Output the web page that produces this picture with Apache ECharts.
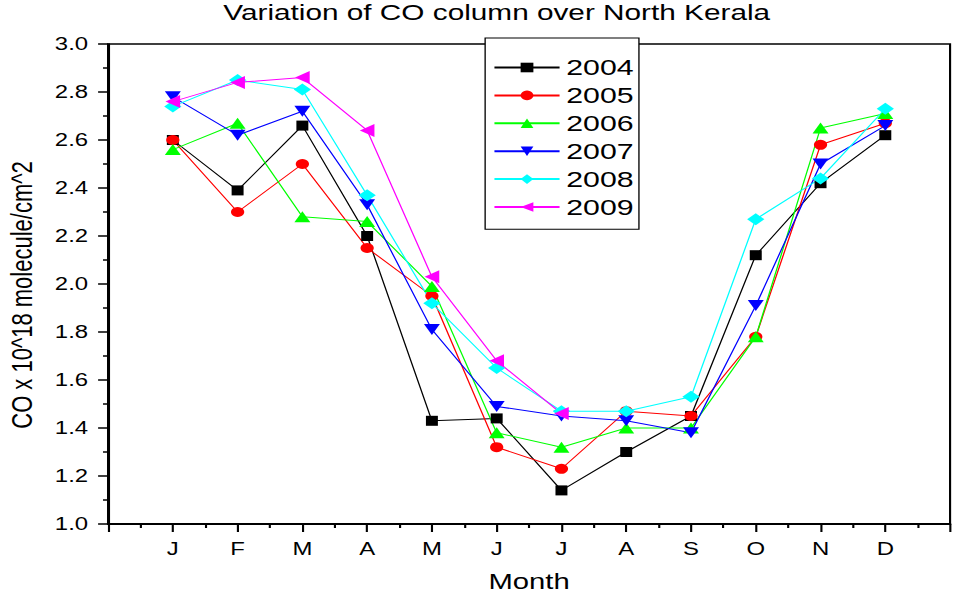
<!DOCTYPE html>
<html><head><meta charset="utf-8">
<script src="https://cdn.jsdelivr.net/npm/echarts@6/dist/echarts.min.js"></script>
<style>
html,body{margin:0;padding:0;background:#fff;overflow:hidden;}
#wrap{width:953px;height:598px;overflow:hidden;position:relative;}
#chart{width:717px;height:598px;transform:scaleX(1.32915);transform-origin:0 0;}
</style></head><body>
<div id="wrap"><div id="chart"></div></div>
<script>
const monthLabels = ['J','F','M','A','M','J','J','A','S','O','N','D'];
const yearNames = ['2004','2005','2006','2007','2008','2009'];
const yTickLabels = ['1.0','1.2','1.4','1.6','1.8','2.0','2.2','2.4','2.6','2.8','3.0'];

const co2004 = [2.60, 2.39, 2.66, 2.20, 1.43, 1.44, 1.14, 1.30, 1.45, 2.12, 2.42, 2.62];
const co2005 = [2.60, 2.30, 2.50, 2.15, 1.95, 1.32, 1.23, 1.47, 1.45, 1.78, 2.58, 2.67];
const co2006 = [2.56, 2.67, 2.28, 2.26, 1.99, 1.38, 1.32, 1.40, 1.40, 1.78, 2.65, 2.71];
const co2007 = [2.78, 2.62, 2.72, 2.33, 1.81, 1.49, 1.45, 1.43, 1.38, 1.91, 2.50, 2.66];
const co2008 = [2.74, 2.85, 2.81, 2.37, 1.92, 1.65, 1.47, 1.47, 1.53, 2.27, 2.44, 2.73];
const co2009 = [2.76, 2.84, 2.86, 2.64, 2.03, 1.68, 1.46, null, null, null, null, null];

const FONT = 'Liberation Sans, Arial, sans-serif';
const seriesValues = [co2004, co2005, co2006, co2007, co2008, co2009];
const seriesColors = ['#000000', '#ff0000', '#00ff00', '#0000ff', '#00ffff', '#ff00ff'];
const seriesSymbols = ['rect', 'circle', 'triangle', 'path://M0,0 L10,0 L5,10 Z', 'diamond', 'path://M0,5 L10,0 L10,10 Z'];
const seriesSymbolSizes = [[9, 10], [10, 10], [12, 11], [12, 11], [13, 12], [11, 13]];

const series = yearNames.map((name, k) => ({
  name: name,
  type: 'line',
  data: seriesValues[k].map((v, i) => [i + 1, v]),
  symbol: seriesSymbols[k],
  symbolSize: seriesSymbolSizes[k],
  showAllSymbol: true,
  connectNulls: false,
  lineStyle: { color: seriesColors[k], width: 1 },
  itemStyle: { color: seriesColors[k], borderWidth: 0 },
  emphasis: { disabled: true }
}));

const chart = echarts.init(document.getElementById('chart'), null, { renderer: 'svg' });
chart.setOption({
  animation: false,
  backgroundColor: '#ffffff',
  title: {
    text: 'Variation of CO column over North Kerala',
    left: 168, top: 1, padding: 0,
    textStyle: { fontFamily: FONT, fontSize: 22.4, fontWeight: 'normal', color: '#000' }
  },
  grid: {
    left: 81.3, right: 2.2, top: 44, bottom: 74,
    outerBoundsMode: 'none', containLabel: false,
    show: true, borderColor: '#000', borderWidth: 1.6, backgroundColor: 'transparent'
  },
  legend: {
    orient: 'vertical', left: 365, top: 38,
    padding: [18, 4, 10.7, 6],
    itemGap: 4.9, itemWidth: 49, itemHeight: 12,
    backgroundColor: '#fff', borderColor: '#000', borderWidth: 1,
    textStyle: { fontFamily: FONT, fontSize: 22.8, color: '#000', width: 51 },
    data: yearNames
  },
  xAxis: {
    type: 'value', min: 0, max: 13, interval: 1,
    name: 'Month', nameLocation: 'middle', nameGap: 46,
    nameTextStyle: { fontFamily: FONT, fontSize: 22, color: '#000' },
    axisLine: { show: true, lineStyle: { color: '#000', width: 2 } },
    axisTick: { show: true, inside: false, length: 8, lineStyle: { color: '#000', width: 1.6 } },
    minorTick: { show: true, splitNumber: 2, length: 4, lineStyle: { color: '#000', width: 1.6 } },
    splitLine: { show: false },
    axisLabel: {
      margin: 16, fontFamily: FONT, fontSize: 18, color: '#000',
      showMinLabel: true, showMaxLabel: true,
      formatter: v => (v >= 1 && v <= 12) ? monthLabels[v - 1] : ''
    }
  },
  yAxis: {
    type: 'value', min: 1.0, max: 3.0, interval: 0.2,
    name: 'CO x 10^18 molecule/cm^2', nameLocation: 'middle', nameGap: 54, nameRotate: 90,
    nameTextStyle: { fontFamily: FONT, fontSize: 22, color: '#000', padding: [0, 22, 0, 0] },
    axisLine: { show: true, lineStyle: { color: '#000', width: 1.6 } },
    axisTick: { show: true, inside: false, length: 7.5, lineStyle: { color: '#000', width: 1.5 } },
    minorTick: { show: true, splitNumber: 2, length: 3.8, lineStyle: { color: '#000', width: 1.5 } },
    splitLine: { show: false },
    axisLabel: {
      margin: 15, fontFamily: FONT, fontSize: 18, color: '#000',
      formatter: v => yTickLabels[Math.round((v - 1.0) / 0.2)]
    }
  },
  series: series
});
</script>
</body></html>
